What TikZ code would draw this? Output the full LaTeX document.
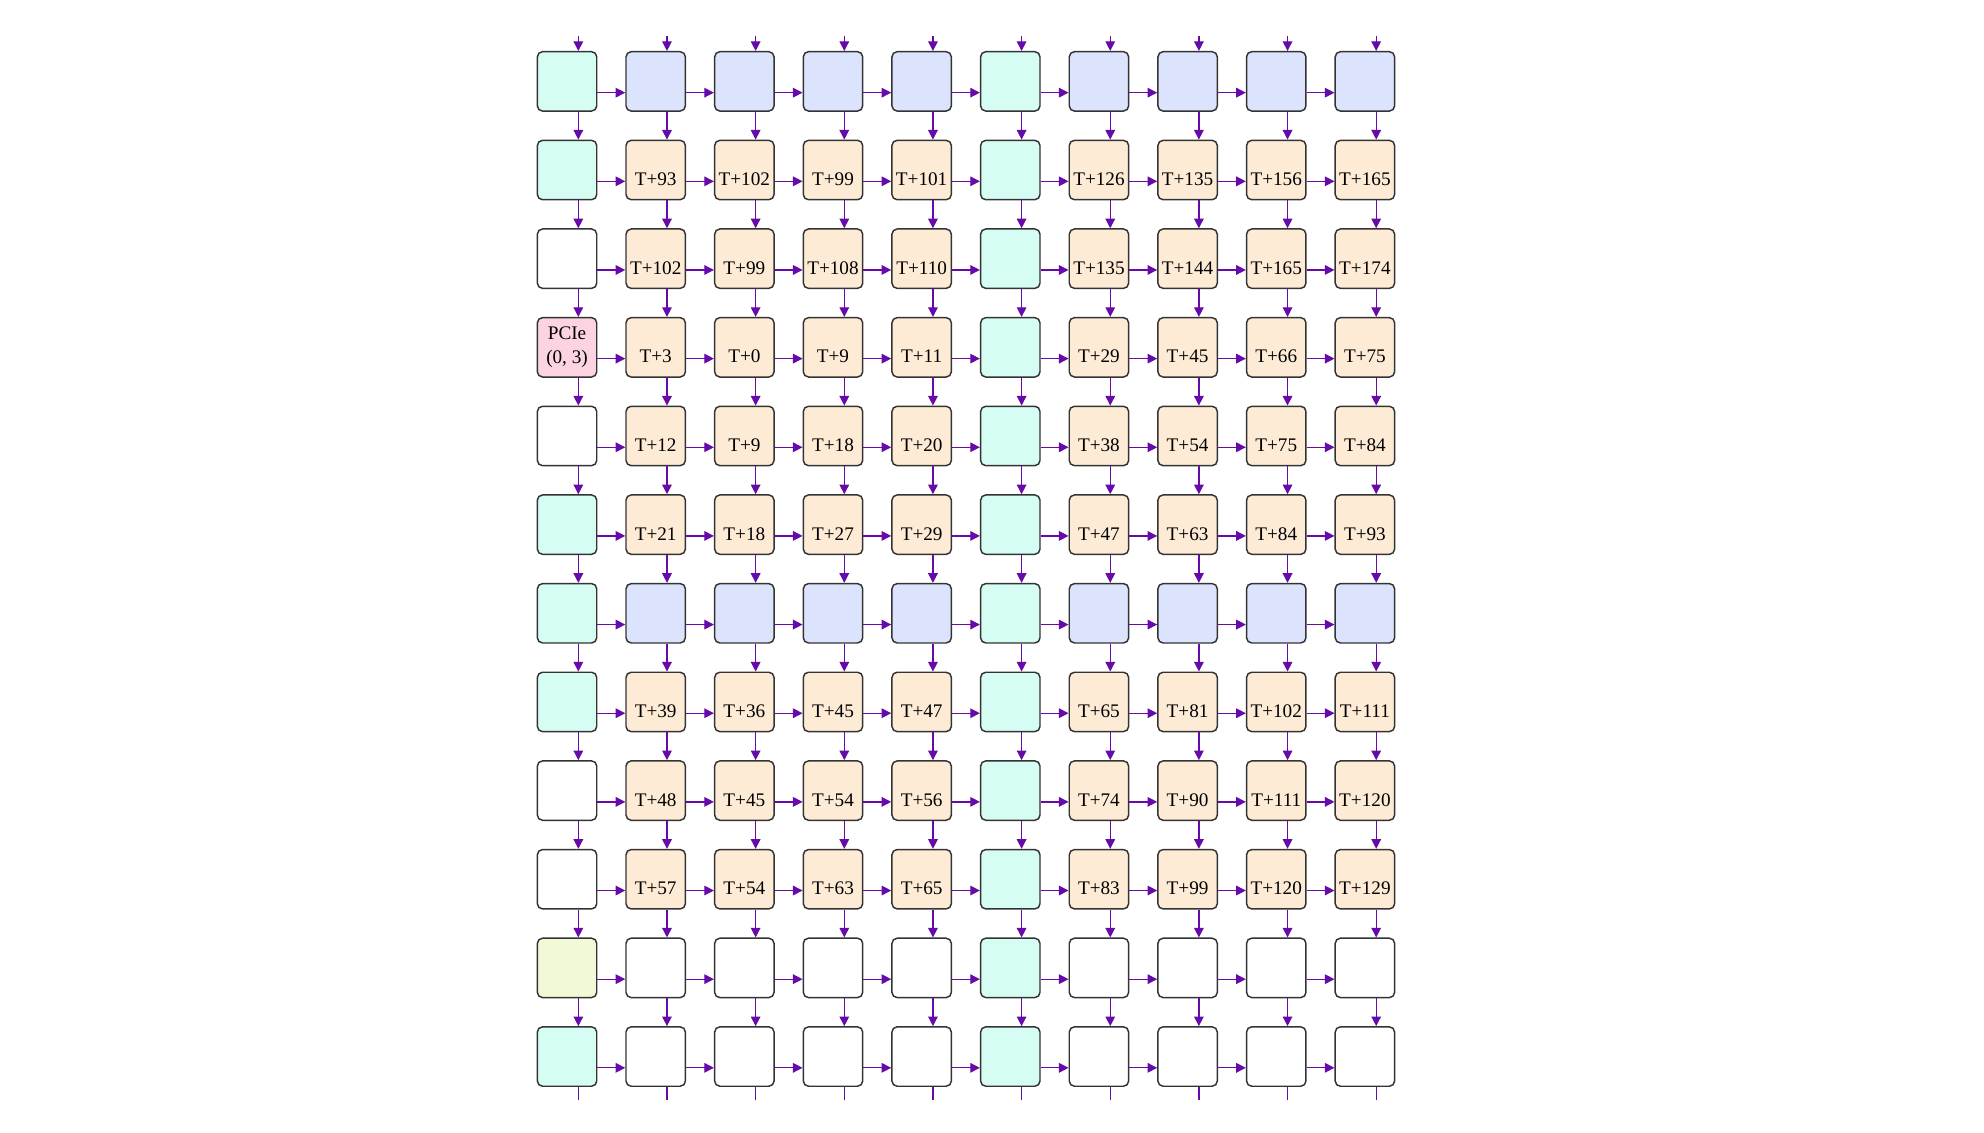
\documentclass[tikz,border=0pt]{standalone}
\usepackage{fontspec}
\setmainfont{Liberation Serif}
\usetikzlibrary{arrows.meta}
\definecolor{cm}{RGB}{214,253,244}
\definecolor{cb}{RGB}{219,228,252}
\definecolor{cp}{RGB}{253,235,214}
\definecolor{cw}{RGB}{255,255,255}
\definecolor{cy}{RGB}{242,249,214}
\definecolor{ck}{RGB}{252,211,225}
\definecolor{arrc}{RGB}{102,10,170}
\newcommand\xo{9.546}
\newcommand\yo{1.370}
\newcommand\pitch{1.4924}
\newcommand\cell[4]{\node[cellbox,fill=#3] (n#1-#2) at ({\xo+\pitch*(#2-1)},{-\yo-\pitch*(#1-1)}) {#4};}
\begin{document}
\begin{tikzpicture}[
  cellbase/.style={draw=black!80, line width=0.7pt, rounded corners=2.5pt,
    minimum width=1cm, minimum height=1cm, inner sep=0pt,
    font=\fontsize{9.2}{11.5}\selectfont},
  cellbox/.style={cellbase, text height=15pt, text depth=0pt},
  arr/.style={draw=arrc, line width=0.6pt, -{Triangle[length=4.6pt,width=4.6pt]}},
  stub/.style={draw=arrc, line width=0.6pt}
]
\path[use as bounding box, fill=white] (0,0) rectangle (33.40,-19.06);
% row 1
\foreach [count=\c] \f/\t in {cm/{},cb/{},cb/{},cb/{},cb/{},cm/{},cb/{},cb/{},cb/{},cb/{}} {\cell{1}{\c}{\f}{\t}}
% row 2
\foreach [count=\c] \f/\t in {cm/{},cp/T+93,cp/T+102,cp/T+99,cp/T+101,cm/{},cp/T+126,cp/T+135,cp/T+156,cp/T+165} {\cell{2}{\c}{\f}{\t}}
% row 3
\foreach [count=\c] \f/\t in {cw/{},cp/T+102,cp/T+99,cp/T+108,cp/T+110,cm/{},cp/T+135,cp/T+144,cp/T+165,cp/T+174} {\cell{3}{\c}{\f}{\t}}
% row 4
\node[cellbase, fill=ck, align=center] (n4-1) at ({\xo},{-\yo-\pitch*3}) {PCIe\\(0, 3)};
\foreach [count=\c from 2] \f/\t in {cp/T+3,cp/T+0,cp/T+9,cp/T+11,cm/{},cp/T+29,cp/T+45,cp/T+66,cp/T+75} {\cell{4}{\c}{\f}{\t}}
% row 5
\foreach [count=\c] \f/\t in {cw/{},cp/T+12,cp/T+9,cp/T+18,cp/T+20,cm/{},cp/T+38,cp/T+54,cp/T+75,cp/T+84} {\cell{5}{\c}{\f}{\t}}
% row 6
\foreach [count=\c] \f/\t in {cm/{},cp/T+21,cp/T+18,cp/T+27,cp/T+29,cm/{},cp/T+47,cp/T+63,cp/T+84,cp/T+93} {\cell{6}{\c}{\f}{\t}}
% row 7
\foreach [count=\c] \f/\t in {cm/{},cb/{},cb/{},cb/{},cb/{},cm/{},cb/{},cb/{},cb/{},cb/{}} {\cell{7}{\c}{\f}{\t}}
% row 8
\foreach [count=\c] \f/\t in {cm/{},cp/T+39,cp/T+36,cp/T+45,cp/T+47,cm/{},cp/T+65,cp/T+81,cp/T+102,cp/T+111} {\cell{8}{\c}{\f}{\t}}
% row 9
\foreach [count=\c] \f/\t in {cw/{},cp/T+48,cp/T+45,cp/T+54,cp/T+56,cm/{},cp/T+74,cp/T+90,cp/T+111,cp/T+120} {\cell{9}{\c}{\f}{\t}}
% row 10
\foreach [count=\c] \f/\t in {cw/{},cp/T+57,cp/T+54,cp/T+63,cp/T+65,cm/{},cp/T+83,cp/T+99,cp/T+120,cp/T+129} {\cell{10}{\c}{\f}{\t}}
% row 11
\foreach [count=\c] \f/\t in {cy/{},cw/{},cw/{},cw/{},cw/{},cm/{},cw/{},cw/{},cw/{},cw/{}} {\cell{11}{\c}{\f}{\t}}
% row 12
\foreach [count=\c] \f/\t in {cm/{},cw/{},cw/{},cw/{},cw/{},cm/{},cw/{},cw/{},cw/{},cw/{}} {\cell{12}{\c}{\f}{\t}}
% horizontal connectors
\foreach \r in {1,...,12} {
  \foreach \c [evaluate=\c as \d using int(\c+1)] in {1,...,9} {
    \draw[arr] ([yshift=-0.19cm]n\r-\c.east) -- ([yshift=-0.19cm]n\r-\d.west);
  }
}
% vertical connectors
\foreach \c in {1,...,10} {
  \foreach \r [evaluate=\r as \s using int(\r+1)] in {1,...,11} {
    \draw[arr] ([xshift=0.19cm]n\r-\c.south) -- ([xshift=0.19cm]n\s-\c.north);
  }
  \coordinate (top\c) at ([xshift=0.19cm,yshift=0.25cm]n1-\c.north);
  \draw[arr] (top\c) -- ([xshift=0.19cm]n1-\c.north);
  \coordinate (bot\c) at ([xshift=0.19cm,yshift=-0.225cm]n12-\c.south);
  \draw[stub] ([xshift=0.19cm]n12-\c.south) -- (bot\c);
}
\end{tikzpicture}
\end{document}
